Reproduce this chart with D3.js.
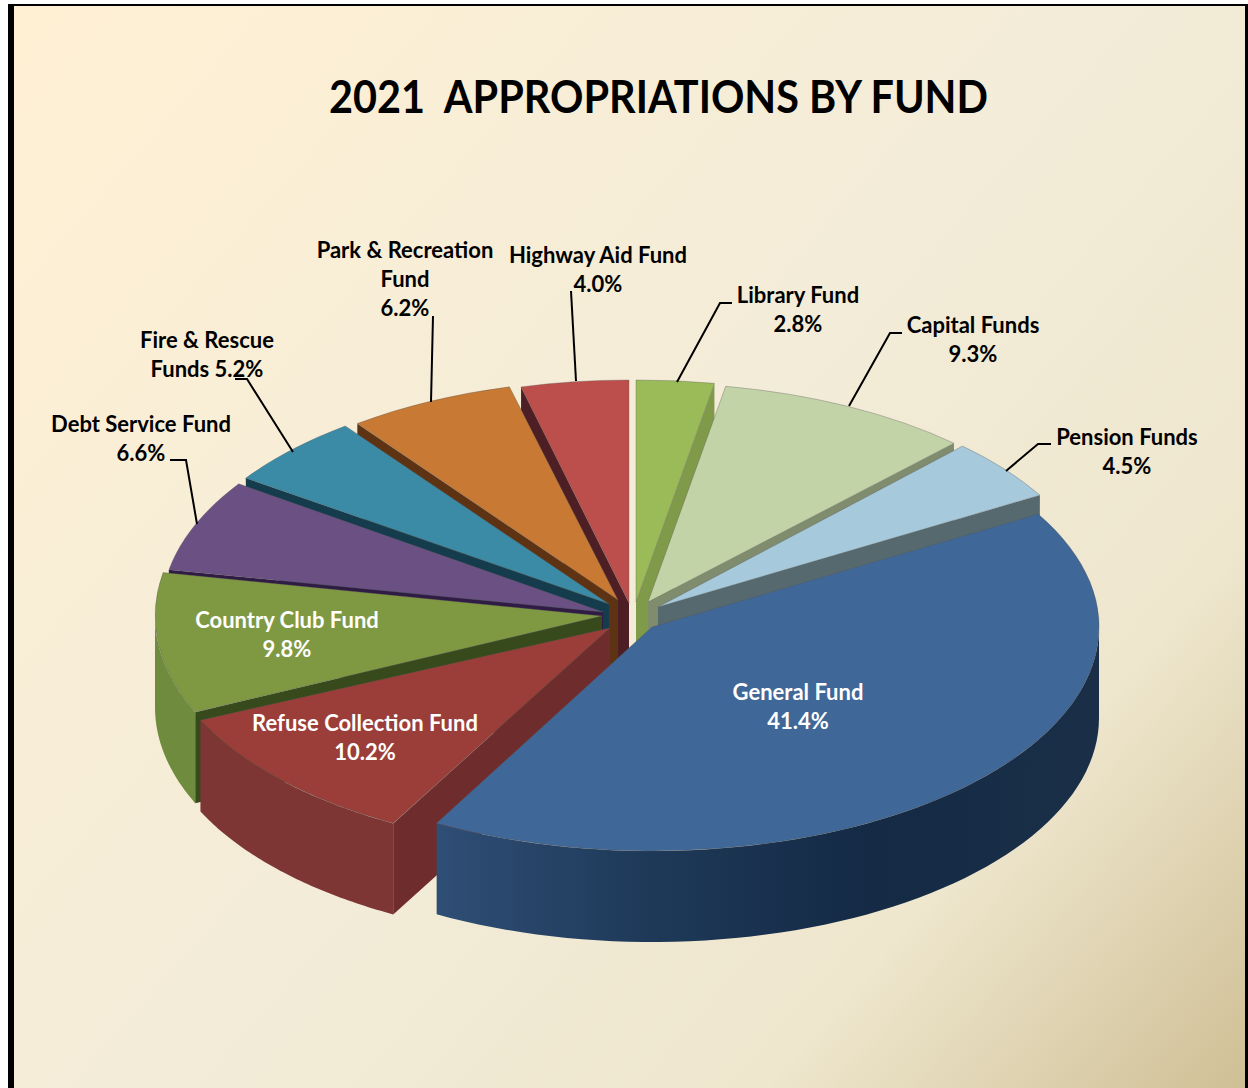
<!DOCTYPE html>
<html>
<head>
<meta charset="utf-8">
<title>2021 Appropriations by Fund</title>
<script src="https://cdn.jsdelivr.net/npm/d3@7"></script>
<style>
  body { margin: 0; background: #fff; }
  svg { display: block; }
  text { font-family: Lato, "Open Sans", sans-serif; font-weight: 700; white-space: pre; }
</style>
</head>
<body>
<div id="chart"></div>
<script>
// Chart values, clockwise from 12 o'clock
const funds = ["Library Fund", "Capital Funds", "Pension Funds", "General Fund", "Refuse Collection Fund",
  "Country Club Fund", "Debt Service Fund", "Fire & Rescue", "Park & Recreation", "Highway Aid Fund"];
const values = [2.8, 9.3, 4.5, 41.4, 10.2, 9.8, 6.6, 5.2, 6.2, 4.0];
const titleText = "2021  APPROPRIATIONS BY FUND";

// Main dimensions
const width = 1248;
const height = 1088;
const depth = 91;

// Where each exploded slice ends up, and its ellipse radii (far side is a bit smaller)
const sliceCenters = [[636, 602], [648, 602], [658, 607], [652, 627], [610, 628],
  [602, 616], [603, 612], [609, 604], [618, 600], [629, 603]];
const sliceRadiusX = [448, 444, 442, 447, 450, 447, 442, 441, 436, 434];
const sliceRadiusY = [222, 219, 222, 224, 223, 232, 226, 222, 220, 223];

const topColors = ["#9bbb59", "#c3d3a8", "#a6c9dc", "#3f6797", "#9b3d38",
  "#7f9942", "#6b5084", "#3b8ba6", "#c87a34", "#bc4f4c"];
const edgeColors = ["#7f9a49", "#7f8c6d", "#56696f", "#1a2f47", "#6f2c2c",
  "#374a1c", "#2f1b44", "#143c4c", "#5e3313", "#4d1f24"];
const wallColors = ["#7f9a49", "#7f8c6d", "#56696f", "url(#generalWall)", "#7e3634",
  "#6f8b3e", "#2f1b44", "#143c4c", "#5e3313", "#4d1f24"];

// Label text lines; "%" is where the value goes
const labelLines = [
  ["Library Fund", "%"], ["Capital Funds", "%"], ["Pension Funds", "%"], ["General Fund", "%"],
  ["Refuse Collection Fund", "%"], ["Country Club Fund", "%"], ["Debt Service Fund", "%"],
  ["Fire & Rescue", "Funds %"], ["Park & Recreation", "Fund", "%"], ["Highway Aid Fund", "%"]
];
const labelPositions = [[798, 303], [973, 333], [1127, 445], [798, 700], [365, 731],
  [287, 628], [141, 432], [207, 348], [405, 258], [598, 263]];
const labelColors = ["#000", "#000", "#000", "#fff", "#fff", "#fff", "#000", "#000", "#000", "#000"];
const leaderLines = [
  [[677, 382], [720, 303], [732, 303]],
  [[849, 406], [890, 333], [902, 333]],
  [[1006, 471], [1038, 444], [1051, 444]],
  null, null, null,
  [[197, 524], [186, 460], [170, 460]],
  [[293, 452], [247, 379], [235, 379]],
  [[431, 402], [433, 316]],
  [[576, 381], [571, 291]]
];

const svg = d3.select("#chart").append("svg")
  .attr("width", width)
  .attr("height", height);

const defs = svg.append("defs");

function addGradient(id, x1, y1, x2, y2, stops) {
  const g = defs.append("linearGradient")
    .attr("id", id)
    .attr("gradientUnits", "userSpaceOnUse")
    .attr("x1", x1).attr("y1", y1)
    .attr("x2", x2).attr("y2", y2);
  stops.forEach(s => g.append("stop").attr("offset", s[0]).attr("stop-color", s[1]));
}

addGradient("page", 14, 6, 1245, 1088, [[0, "#fff0d4"], [0.5, "#f3ecd8"], [0.78, "#eee6cd"], [1, "#cfbf95"]]);
addGradient("generalWall", 438, 0, 1098, 0, [[0, "#2f4e75"], [0.3, "#1f3a5a"], [0.65, "#142a45"], [1, "#1a2f47"]]);

// Background and frame
svg.append("rect").attr("x", 8).attr("y", 4).attr("width", 1240).attr("height", 1084).attr("fill", "#000");
svg.append("rect").attr("x", 14).attr("y", 6).attr("width", 1231).attr("height", 1082).attr("fill", "url(#page)");

svg.append("text")
  .attr("x", 329)
  .attr("y", 113)
  .attr("font-size", 45)
  .attr("textLength", 659)
  .attr("lengthAdjust", "spacingAndGlyphs")
  .attr("fill", "#000")
  .text(titleText);

const slices = d3.pie().sort(null).value(d => d)(values)
  .map((d, i) => ({
    ...d, i,
    cx: sliceCenters[i][0], cy: sliceCenters[i][1],
    rx: sliceRadiusX[i], ry: sliceRadiusY[i]
  }));

// Unit pie, scaled per slice into its ellipse
const arc = d3.arc().innerRadius(0).outerRadius(1);

// Point on a slice's rim, moved down by h for the lower edge
function rim(s, angle, h = 0) {
  return [s.cx + s.rx * Math.sin(angle), s.cy - s.ry * Math.cos(angle) + h];
}

const line = d3.line();

function drawSlice(s) {
  const g = svg.append("g");

  // Cut faces: only the ones turned towards the viewer
  [s.startAngle, s.endAngle].forEach((a, k) => {
    const visible = k === 0 ? Math.sin(a) < 0 : Math.sin(a) > 0;
    if (!visible) return;
    const p = rim(s, a);
    g.append("path")
      .attr("d", line([[s.cx, s.cy], p, [p[0], p[1] + depth], [s.cx, s.cy + depth]]) + "Z")
      .attr("fill", edgeColors[s.i]);
  });

  // Outer wall: the front half of the rim
  const a0 = Math.max(s.startAngle, Math.PI / 2);
  const a1 = Math.min(s.endAngle, Math.PI * 1.5);
  if (a1 > a0) {
    const angles = d3.range(0, 61).map(t => a0 + (a1 - a0) * t / 60);
    const pts = angles.map(a => rim(s, a)).concat(angles.slice().reverse().map(a => rim(s, a, depth)));
    g.append("path").attr("d", line(pts) + "Z").attr("fill", wallColors[s.i]);
  }

  // Top face
  g.append("path")
    .attr("d", arc(s))
    .attr("transform", `translate(${s.cx},${s.cy}) scale(${s.rx},${s.ry})`)
    .attr("fill", topColors[s.i])
    .attr("stroke", "rgba(90,90,90,0.35)")
    .attr("stroke-width", 1)
    .attr("vector-effect", "non-scaling-stroke");
}

// Back to front, General Fund last because it sits over everything
[9, 0, 8, 1, 7, 2, 6, 5, 4, 3].forEach(i => drawSlice(slices[i]));

// Leader lines
leaderLines.forEach(pts => {
  if (!pts) return;
  svg.append("path")
    .attr("d", line(pts))
    .attr("fill", "none")
    .attr("stroke", "#000")
    .attr("stroke-width", 2);
});

// Labels
labelLines.forEach((lines, i) => {
  const t = svg.append("text")
    .attr("text-anchor", "middle")
    .attr("font-size", 22)
    .attr("fill", labelColors[i]);
  lines.forEach((l, k) => {
    t.append("tspan")
      .attr("x", labelPositions[i][0])
      .attr("y", labelPositions[i][1] + k * 29)
      .text(l.replace("%", values[i].toFixed(1) + "%"));
  });
});
</script>
</body>
</html>
